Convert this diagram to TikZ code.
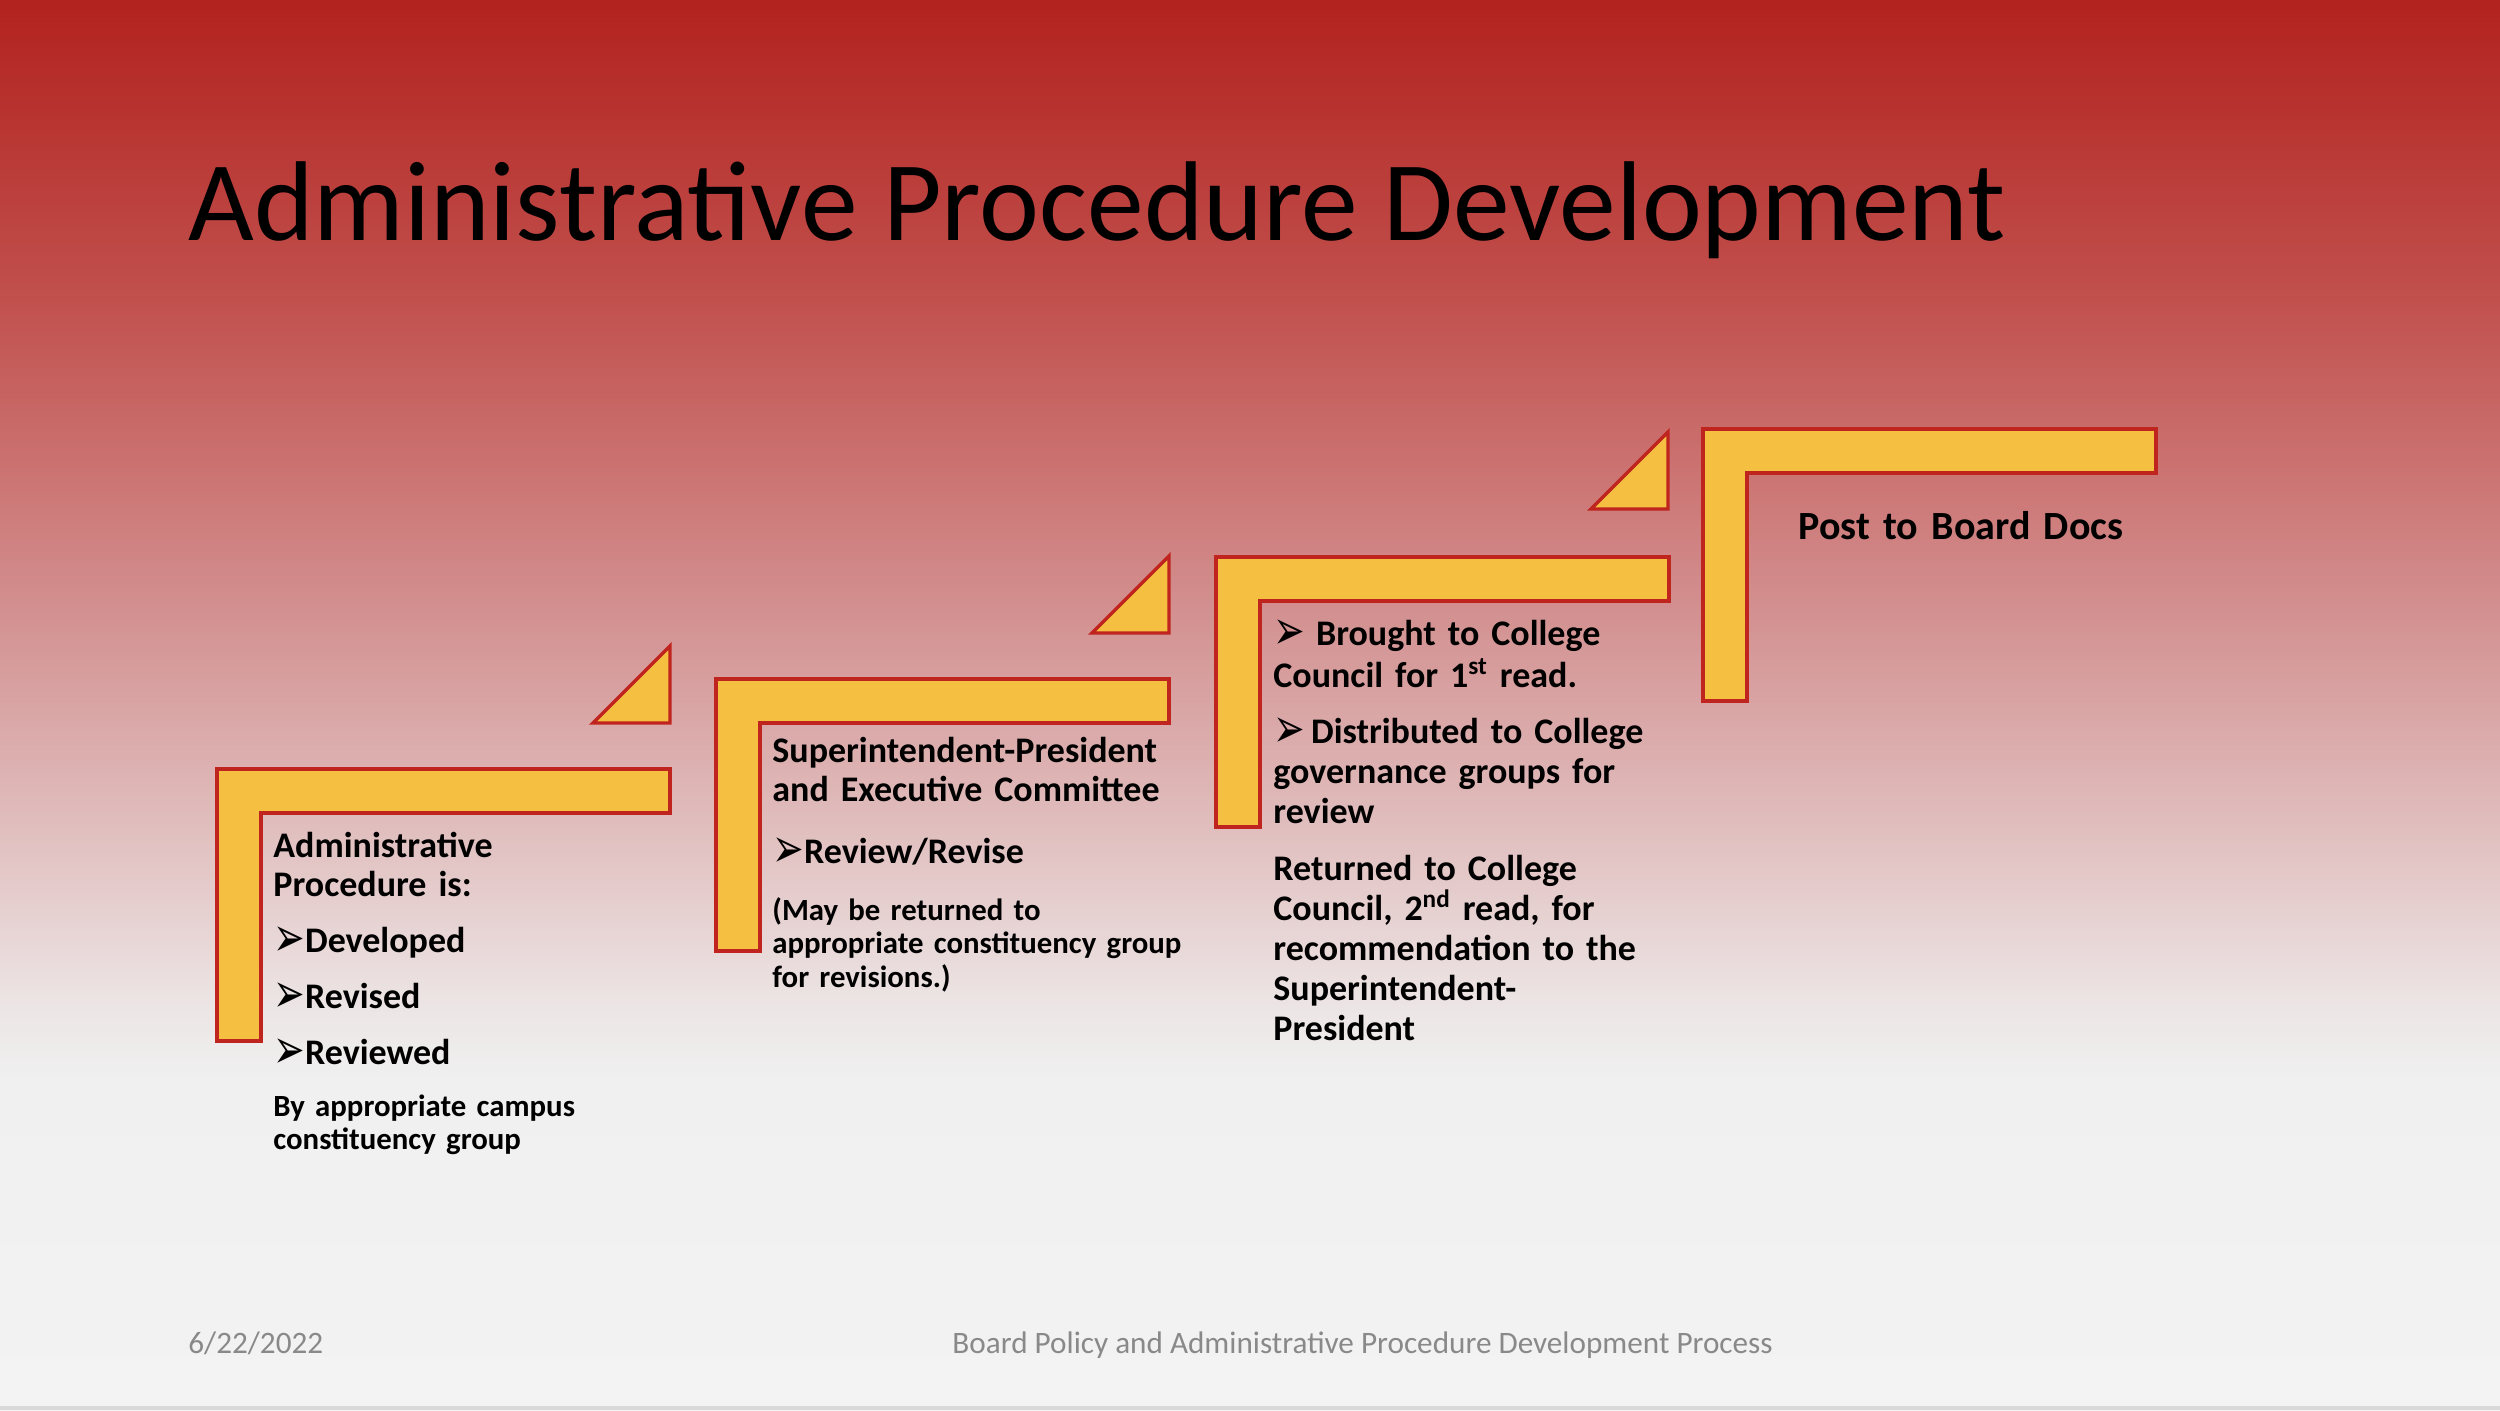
\documentclass[tikz,border=0pt]{standalone}
\usepackage{fontspec}
\setmainfont{Carlito}
\newfontfamily\tipfont{DejaVu Sans}
\usepackage{tikz}
\usetikzlibrary{positioning}
\definecolor{bgtop}{RGB}{178,34,30}
\definecolor{bgred}{RGB}{193,80,77}
\definecolor{bgrose}{RGB}{212,148,148}
\definecolor{bgpink}{RGB}{226,194,194}
\definecolor{bgpale}{RGB}{236,228,228}
\definecolor{bggrey}{RGB}{240,240,240}
\definecolor{bgfoot}{RGB}{243,243,243}
\definecolor{stepgold}{RGB}{245,192,66}
\definecolor{stepred}{RGB}{192,36,30}
\definecolor{footgrey}{RGB}{137,137,137}
\definecolor{edgegrey}{RGB}{217,217,217}
\pgfdeclareverticalshading{slidebg}{100bp}{color(0bp)=(bgfoot); color(25bp)=(bgfoot); color(36.7bp)=(bggrey); color(39.5bp)=(bgpale); color(45bp)=(bgpink); color(52.7bp)=(bgrose); color(64.4bp)=(bgred); color(75bp)=(bgtop); color(100bp)=(bgtop)}
\newcommand\tipmark{{\tipfont\raisebox{-0.12em}{\scalebox{1.05}[1.55]{\char"27A2}}}}
\tikzset{
  steppath/.style={draw=stepred, fill=stepgold, line width=1.7pt, line join=miter},
  steptext/.style={inner sep=0pt, anchor=base west, align=left, text width=260pt, font=\bfseries\fontsize{18}{19.5}\selectfont},
  stepnote/.style={steptext, font=\bfseries\fontsize{15.4}{16.5}\selectfont},
  foot/.style={inner sep=0pt, anchor=base west, text=footgrey, font=\fontsize{15.6}{18}\selectfont}
}
\begin{document}
\begin{tikzpicture}[x=0.5pt, y=-0.5pt]
\useasboundingbox (0,0) rectangle (2500,1410);
% slide background
\shade[shading=slidebg] (0,0) rectangle (2500,1410);
\fill[edgegrey] (0,1406) rectangle (2500,1410);
\node[inner sep=0pt, anchor=base west, font=\fontsize{56.75}{68}\selectfont] (title) at (188,240) {Administrative Procedure Development};

% the four steps
\foreach \lx/\ty/\by in {217/769/1041, 716/679/951, 1216/557/827, 1703/429/701}
  \draw[steppath] (\lx,\ty) -- ++(453,0) -- ++(0,44) -- ({\lx+44},{\ty+44}) -- ({\lx+44},\by) -- (\lx,\by) -- cycle;
% small triangles between the steps
\foreach \rx/\by in {670/723, 1169/633, 1668/509}
  \draw[steppath] (\rx,\by) -- ++(-77,0) -- ++(77,-77) -- cycle;

\node[steptext] (adtxt) at (273,857) {Administrative\\Procedure is:\\[8.5pt]\tipmark Developed\\[8.5pt]\tipmark Revised\\[8.5pt]\tipmark Reviewed};
\node[stepnote] (adnote) at (273,1116) {By appropriate campus\\constituency group};

\node[steptext] (sptxt) at (772,762) {Superintendent-President\\and Executive Committee\\[11.5pt]\tipmark Review/Revise};
\node[stepnote, font=\bfseries\fontsize{15.4}{16.75}\selectfont] (spnote) at (772,920) {(May be returned to\\appropriate constituency group\\for revisions.)};

\node[steptext, font=\bfseries\fontsize{18}{20}\selectfont] (cctxt) at (1273,645) {\tipmark\hspace{5.5pt}Brought to College\\[1pt]Council for 1\textsuperscript{st} read.\\[8pt]\tipmark\hspace{3pt}Distributed to College\\governance groups for\\review};
\node[steptext, font=\bfseries\fontsize{18}{20}\selectfont] (ccret) at (1273,880) {Returned to College\\Council, 2\textsuperscript{nd} read, for\\recommendation to the\\Superintendent-\\President};

\node[steptext, font=\bfseries\fontsize{20}{24}\selectfont] (bdtxt) at (1798,539) {Post to Board Docs};

% footer
\node[foot] (date) at (188,1353) {6/22/2022};
\node[foot] (footer) at (952,1353) {Board Policy and Administrative Procedure Development Process};
\end{tikzpicture}
\end{document}
